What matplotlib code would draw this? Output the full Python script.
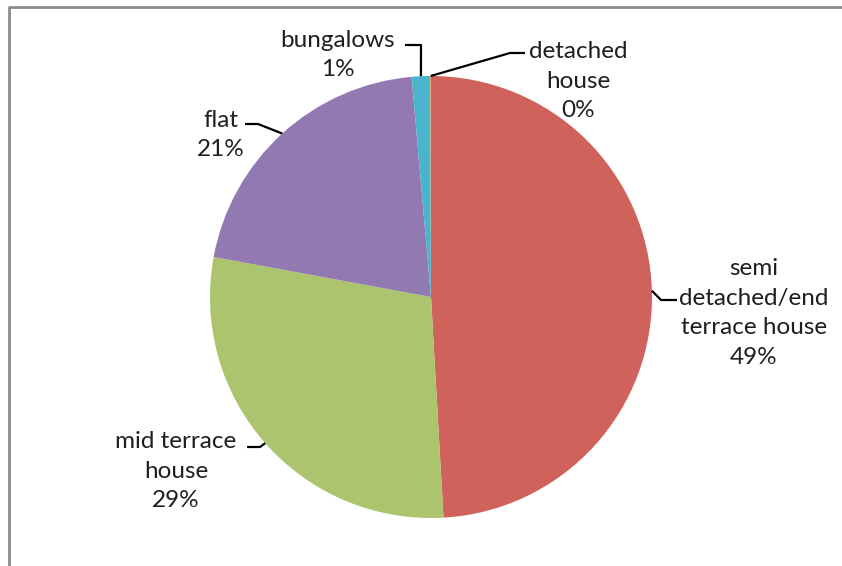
import numpy as np
import matplotlib.pyplot as plt

# housing type shares (%), clockwise from 12 o'clock
labels = ['semi\ndetached/end\nterrace house', 'mid terrace\nhouse', 'flat', 'bungalows', 'detached\nhouse']
values = [49.1, 28.8, 20.7, 1.35, 0.05]
pct_text = ['49%', '29%', '21%', '1%', '0%']
colors = ['#CF635C', '#ABC46D', '#9279B2', '#4BB4CD', '#F0A050']

W, H = 842, 566
plt.rcParams['font.family'] = ['Lato', 'DejaVu Sans']

fig = plt.figure(figsize=(W / 100, H / 100), dpi=100)
ax = fig.add_axes([0, 0, 1, 1])

cx, cy, r = 431, H - 297, 221
wedges, _ = ax.pie(values, colors=colors, startangle=90, counterclock=False,
                   center=(cx, cy), radius=r, frame=True,
                   wedgeprops=dict(linewidth=0))
ax.set_xlim(0, W)
ax.set_ylim(0, H)
ax.set_aspect('auto')
ax.axis('off')

# chart border (top and left visible)
ax.plot([9, 9, W], [0, H - 6.5, H - 6.5], color='#8c8c8c', lw=2, clip_on=False)

# label centres and leader elbows in pixel coords (y from top)
label_pos = [(754, 313), (176, 471), (221, 135), (338, 55), (578, 81)]
elbows = [
    [(677, 300), (661, 300)],
    [(247, 447), (260, 447)],
    [(245, 124), (258, 124)],
    [(405, 45), (421, 45)],
    [(525, 53), (510, 53)],
]

for w, lab, pct, (lx, ly), elb in zip(wedges, labels, pct_text, label_pos, elbows):
    ang = np.deg2rad((w.theta1 + w.theta2) / 2)
    px, py = cx + r * np.cos(ang), cy + r * np.sin(ang)
    xs = [p[0] for p in elb] + [px]
    ys = [H - p[1] for p in elb] + [py]
    ax.plot(xs, ys, color='black', lw=1.6, solid_capstyle='butt')
    ax.text(lx, H - ly, lab + '\n' + pct, ha='center', va='center',
            fontsize=17.5, linespacing=1.52, color='#1f1f1f')

plt.savefig('out.png', dpi=100)
